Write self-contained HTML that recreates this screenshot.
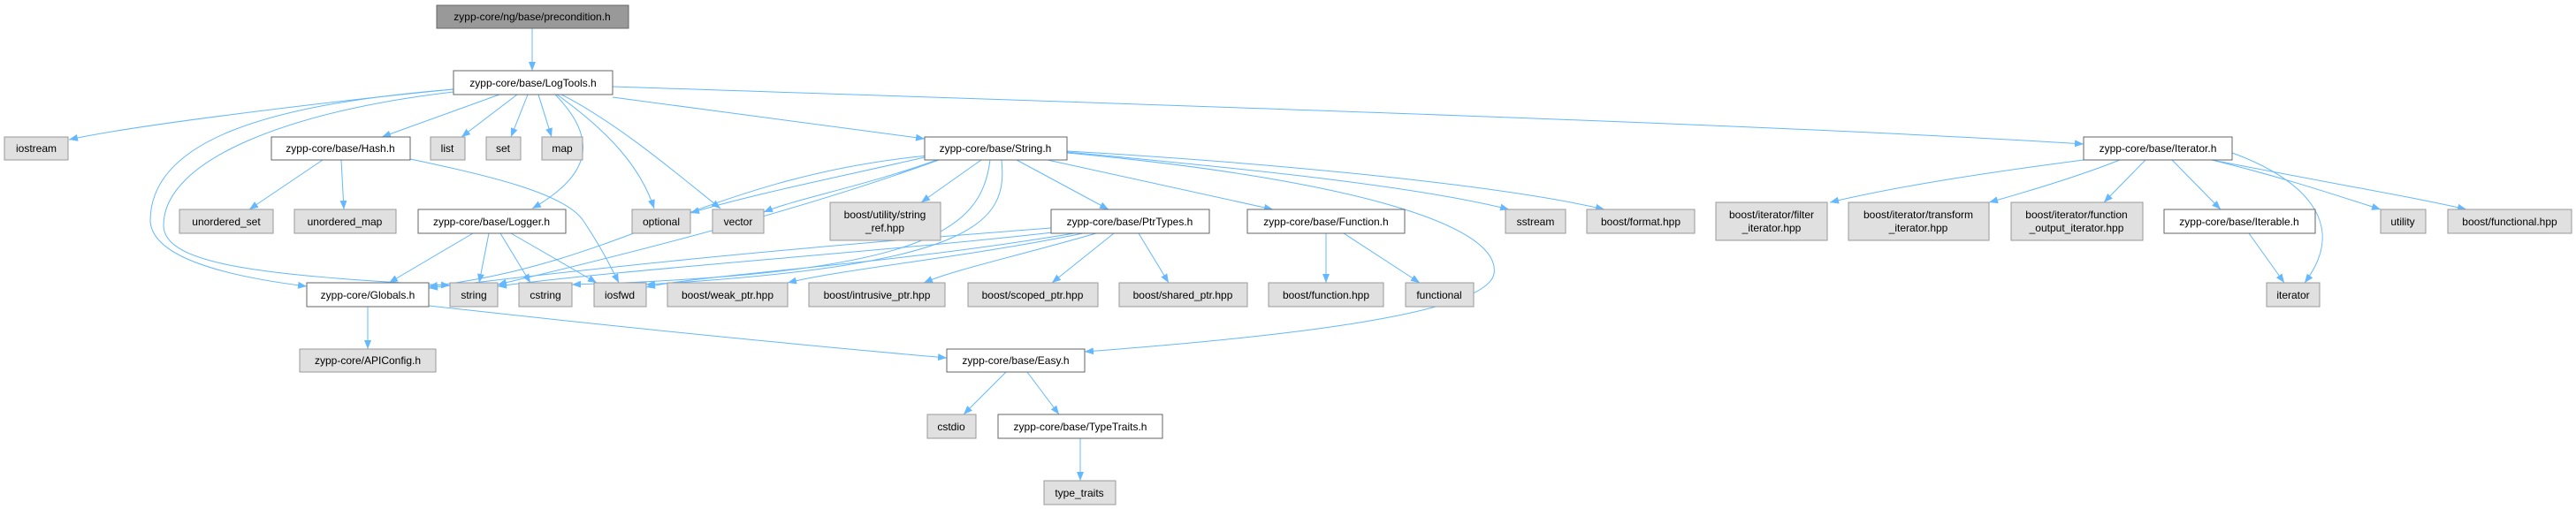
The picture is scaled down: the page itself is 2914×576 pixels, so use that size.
<!DOCTYPE html>
<html><head><meta charset="utf-8"><style>
html,body{margin:0;padding:0;background:#fff;}
svg{display:block;}
text{font-family:"Liberation Sans",sans-serif;font-size:12px;fill:#000;}
</style></head><body>
<svg width="2914" height="576" viewBox="0 0 2914 576" xmlns="http://www.w3.org/2000/svg">
<defs>
<marker id="a" markerWidth="10" markerHeight="8" refX="10" refY="4" orient="auto" markerUnits="userSpaceOnUse">
<path d="M0,0 L10,4 L0,8 z" fill="#63b8ff"/>
</marker>
</defs>
<g fill="none" stroke="#63b8ff" stroke-width="1" marker-end="url(#a)">
<path d="M602,32 L602,80"/>
<path d="M513,101 C400,112 160,140 78,158"/>
<path d="M565,107 L432,155"/>
<path d="M585,107 L522,155"/>
<path d="M597,107 L578,155"/>
<path d="M609,107 L624,155"/>
<path d="M628,107 C680,160 665,200 602,236"/>
<path d="M630,107 C690,150 725,190 740,236"/>
<path d="M635,107 C700,140 770,200 815,236"/>
<path d="M693,110 L1046,157"/>
<path d="M693,98 C1200,115 2000,140 2357,163"/>
<path d="M513,101 C300,118 170,160 170,250 C172,290 250,312 347,324"/>
<path d="M513,104 C330,125 185,180 185,255 C185,300 300,312 509,323"/>
<path d="M464,180 C560,200 640,220 660,250 C680,280 690,300 700,320"/>
<path d="M365,181 L282,237"/>
<path d="M386,181 L389,237"/>
<path d="M535,264 L440,320"/>
<path d="M553,264 L542,320"/>
<path d="M566,264 L600,320"/>
<path d="M578,264 L675,320"/>
<path d="M1046,178 C950,200 850,220 781,241"/>
<path d="M1060,181 C980,210 900,225 864,240"/>
<path d="M1110,181 L1042,229"/>
<path d="M1150,181 L1254,237"/>
<path d="M1185,181 L1440,237"/>
<path d="M1207,172 C1400,190 1600,210 1707,237"/>
<path d="M1207,171 C1450,185 1700,210 1815,237"/>
<path d="M1207,173 C1500,200 1700,250 1690,310 C1680,360 1400,385 1227,398"/>
<path d="M1062,181 C900,240 700,290 563,322"/>
<path d="M1120,181 C1110,260 1050,310 647,322"/>
<path d="M1133,181 C1140,250 1110,300 731,322"/>
<path d="M1050,176 C800,200 700,300 485,324"/>
<path d="M1189,258 C900,280 700,300 485,326"/>
<path d="M1200,262 C1000,285 700,305 563,324"/>
<path d="M1215,264 C1000,300 800,310 731,325"/>
<path d="M1225,264 C1100,290 950,305 891,320"/>
<path d="M1240,264 C1150,290 1080,305 1045,320"/>
<path d="M1260,264 L1190,320"/>
<path d="M1288,264 L1322,320"/>
<path d="M1500,264 L1500,320"/>
<path d="M1520,264 L1606,320"/>
<path d="M485,346 C700,370 900,390 1071,405"/>
<path d="M416,347 L416,395"/>
<path d="M1138,421 L1090,469"/>
<path d="M1162,421 L1198,469"/>
<path d="M1222,496 L1222,544"/>
<path d="M2357,181 C2250,195 2150,210 2070,229"/>
<path d="M2398,181 C2350,200 2300,215 2250,229"/>
<path d="M2427,181 L2380,229"/>
<path d="M2457,181 L2512,237"/>
<path d="M2502,181 C2580,200 2640,220 2693,237"/>
<path d="M2502,181 C2650,210 2740,225 2790,237"/>
<path d="M2525,173 C2600,200 2660,250 2607,320"/>
<path d="M2544,264 L2584,320"/>
</g>
<g stroke-width="1">
<rect x="494" y="6" width="217" height="26" fill="#999" stroke="#666"/>
<rect x="513" y="80" width="180" height="27" fill="#fff" stroke="#666"/>
<g fill="#e0e0e0" stroke="#999">
<rect x="5" y="155" width="72" height="26"/>
<rect x="487" y="155" width="39" height="26"/>
<rect x="550" y="155" width="39" height="26"/>
<rect x="613" y="155" width="46" height="26"/>
<rect x="203" y="237" width="106" height="27"/>
<rect x="333" y="237" width="115" height="27"/>
<rect x="715" y="237" width="66" height="27"/>
<rect x="806" y="237" width="58" height="27"/>
<rect x="939" y="229" width="125" height="43"/>
<rect x="1703" y="237" width="68" height="27"/>
<rect x="1795" y="237" width="122" height="27"/>
<rect x="1941" y="229" width="126" height="43"/>
<rect x="2091" y="229" width="159" height="43"/>
<rect x="2275" y="229" width="149" height="43"/>
<rect x="2693" y="237" width="51" height="27"/>
<rect x="2769" y="237" width="140" height="27"/>
<rect x="509" y="320" width="54" height="27"/>
<rect x="587" y="320" width="60" height="27"/>
<rect x="672" y="320" width="59" height="27"/>
<rect x="755" y="320" width="136" height="27"/>
<rect x="915" y="320" width="154" height="27"/>
<rect x="1095" y="320" width="147" height="27"/>
<rect x="1266" y="320" width="145" height="27"/>
<rect x="1435" y="320" width="130" height="27"/>
<rect x="1590" y="320" width="77" height="27"/>
<rect x="2564" y="320" width="60" height="27"/>
<rect x="339" y="395" width="154" height="26"/>
<rect x="1049" y="469" width="55" height="27"/>
<rect x="1181" y="544" width="81" height="27"/>
</g>
<g fill="#fff" stroke="#666">
<rect x="307" y="155" width="157" height="26"/>
<rect x="1046" y="155" width="161" height="26"/>
<rect x="2357" y="155" width="168" height="26"/>
<rect x="473" y="237" width="167" height="27"/>
<rect x="1189" y="237" width="179" height="27"/>
<rect x="1411" y="237" width="178" height="27"/>
<rect x="2448" y="237" width="171" height="27"/>
<rect x="347" y="320" width="138" height="27"/>
<rect x="1071" y="395" width="156" height="26"/>
<rect x="1129" y="469" width="186" height="27"/>
</g>
</g>
<g text-anchor="middle">
<text x="602" y="23">zypp-core/ng/base/precondition.h</text>
<text x="603" y="98">zypp-core/base/LogTools.h</text>
<text x="41" y="172">iostream</text>
<text x="385" y="172">zypp-core/base/Hash.h</text>
<text x="506" y="172">list</text>
<text x="569" y="172">set</text>
<text x="636" y="172">map</text>
<text x="1126" y="172">zypp-core/base/String.h</text>
<text x="2441" y="172">zypp-core/base/Iterator.h</text>
<text x="256" y="255">unordered_set</text>
<text x="390" y="255">unordered_map</text>
<text x="556" y="255">zypp-core/base/Logger.h</text>
<text x="748" y="255">optional</text>
<text x="835" y="255">vector</text>
<text x="1001" y="247">boost/utility/string</text>
<text x="1001" y="262">_ref.hpp</text>
<text x="1278" y="255">zypp-core/base/PtrTypes.h</text>
<text x="1500" y="255">zypp-core/base/Function.h</text>
<text x="1737" y="255">sstream</text>
<text x="1856" y="255">boost/format.hpp</text>
<text x="2004" y="247">boost/iterator/filter</text>
<text x="2004" y="262">_iterator.hpp</text>
<text x="2170" y="247">boost/iterator/transform</text>
<text x="2170" y="262">_iterator.hpp</text>
<text x="2349" y="247">boost/iterator/function</text>
<text x="2349" y="262">_output_iterator.hpp</text>
<text x="2533" y="255">zypp-core/base/Iterable.h</text>
<text x="2718" y="255">utility</text>
<text x="2839" y="255">boost/functional.hpp</text>
<text x="416" y="338">zypp-core/Globals.h</text>
<text x="536" y="338">string</text>
<text x="617" y="338">cstring</text>
<text x="701" y="338">iosfwd</text>
<text x="823" y="338">boost/weak_ptr.hpp</text>
<text x="992" y="338">boost/intrusive_ptr.hpp</text>
<text x="1168" y="338">boost/scoped_ptr.hpp</text>
<text x="1338" y="338">boost/shared_ptr.hpp</text>
<text x="1500" y="338">boost/function.hpp</text>
<text x="1628" y="338">functional</text>
<text x="2594" y="338">iterator</text>
<text x="416" y="412">zypp-core/APIConfig.h</text>
<text x="1149" y="412">zypp-core/base/Easy.h</text>
<text x="1076" y="487">cstdio</text>
<text x="1222" y="487">zypp-core/base/TypeTraits.h</text>
<text x="1221" y="562">type_traits</text>
</g>
</svg>
</body></html>
